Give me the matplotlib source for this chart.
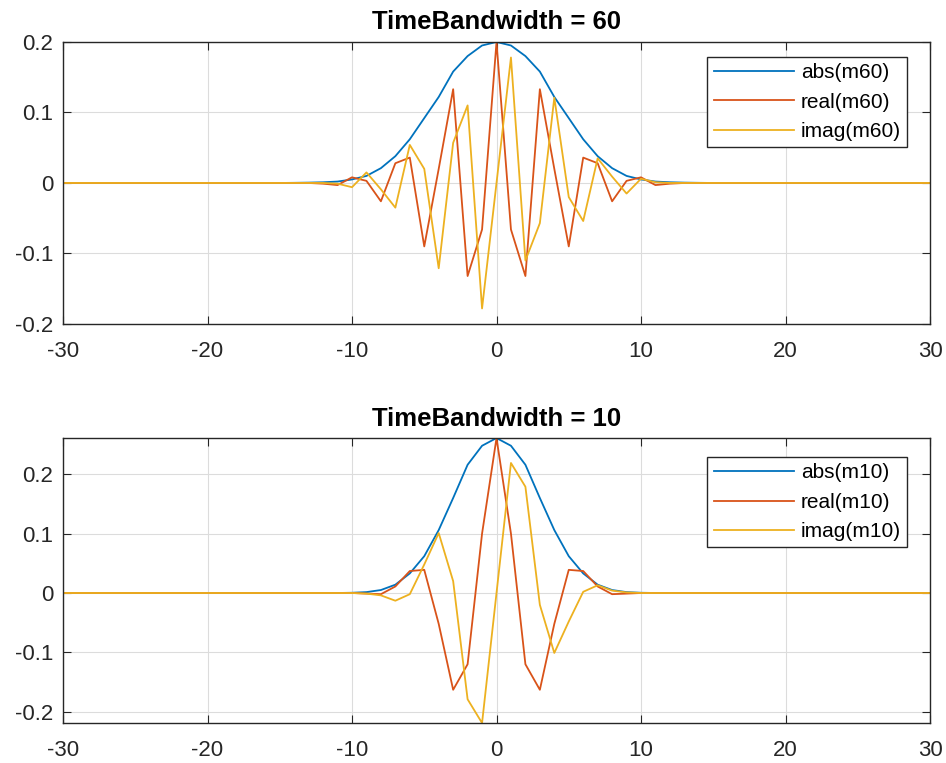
import matplotlib.pyplot as plt
import numpy as np

# sample positions
x = np.arange(-30, 31)

# TimeBandwidth = 60 (x = -30 ... 30)
abs_m60 = [0]*16 + [0.0002, 0.0005, 0.001, 0.002, 0.005, 0.010, 0.021, 0.038, 0.062, 0.092,
                    0.122, 0.158, 0.180, 0.195,
                    0.200,
                    0.195, 0.180, 0.158, 0.122,
                    0.092, 0.062, 0.038, 0.021, 0.010, 0.005, 0.002, 0.001, 0.0005, 0.0002] + [0]*16
real_m60 = [0]*16 + [0, 0, -0.001, -0.003, 0.008, 0.003, -0.026, 0.028, 0.036, -0.090,
                     0.020, 0.133, -0.132, -0.066,
                     0.200,
                     -0.066, -0.132, 0.133, 0.020,
                     -0.090, 0.036, 0.028, -0.026, 0.003, 0.008, -0.003, -0.001, 0, 0] + [0]*16
imag_m60 = [0]*16 + [0, 0, 0, -0.001, -0.006, 0.015, -0.009, -0.035, 0.054, 0.020,
                     -0.121, 0.057, 0.110, -0.178,
                     0,
                     0.178, -0.110, -0.057, 0.121,
                     -0.020, -0.054, 0.035, 0.009, -0.015, 0.006, 0.001, 0, 0, 0] + [0]*16

# TimeBandwidth = 10
abs_m10 = [0]*20 + [0.0004, 0.0015, 0.005, 0.014, 0.033, 0.062, 0.106, 0.160, 0.216, 0.248,
                    0.261,
                    0.248, 0.216, 0.160, 0.106, 0.062, 0.033, 0.014, 0.005, 0.0015, 0.0004] + [0]*20
real_m10 = [0]*20 + [0, -0.001, -0.002, 0.011, 0.037, 0.039, -0.052, -0.163, -0.120, 0.100,
                     0.261,
                     0.100, -0.120, -0.163, -0.052, 0.039, 0.037, 0.011, -0.002, -0.001, 0] + [0]*20
imag_m10 = [0]*20 + [0, -0.001, -0.004, -0.013, -0.002, 0.048, 0.101, 0.020, -0.179, -0.219,
                     0,
                     0.219, 0.179, -0.020, -0.101, -0.048, 0.002, 0.013, 0.004, 0.001, 0] + [0]*20

colors = ['#0072BD', '#D95319', '#EDB120']

plt.rcParams['font.family'] = ['Liberation Sans', 'DejaVu Sans']

fig = plt.figure(figsize=(9.46, 7.63), dpi=100)
ax_t = fig.add_axes([0.0666, 0.5754, 0.9165, 0.3696])
ax_b = fig.add_axes([0.0666, 0.0524, 0.9165, 0.3735])

panels = [
    (ax_t, 'm60', 'TimeBandwidth = 60', abs_m60, real_m60, imag_m60, 0.947),
    (ax_b, 'm10', 'TimeBandwidth = 10', abs_m10, real_m10, imag_m10, 0.933),
]

for ax, name, title, a, r, im, ly in panels:
    ax.plot(x, a, color=colors[0], lw=1.3, label='abs(%s)' % name)
    ax.plot(x, r, color=colors[1], lw=1.3, label='real(%s)' % name)
    ax.plot(x, im, color=colors[2], lw=1.3, label='imag(%s)' % name)
    ax.set_xlim(-30, 30)
    ax.set_xticks(np.arange(-30, 31, 10))
    ax.grid(True, color='#dcdcdc', lw=0.8)
    ax.set_axisbelow(True)
    ax.tick_params(direction='in', length=6, width=0.8, top=True, right=True,
                   labelsize=16, colors='#262626')
    ax.tick_params(axis='x', pad=12.5)
    ax.tick_params(axis='y', pad=7)
    for s in ax.spines.values():
        s.set_color('#262626')
        s.set_linewidth(1.0)
    ax.set_title(title, fontsize=18.5, fontweight='bold', pad=9)
    leg = ax.legend(loc='upper right', bbox_to_anchor=(0.9735, ly), fontsize=15,
                    fancybox=False, framealpha=1, edgecolor='#262626',
                    handlelength=3.85, handletextpad=0.33, labelspacing=0.5,
                    borderpad=0.3, borderaxespad=0)
    leg.get_frame().set_linewidth(1.0)

ax_t.set_ylim(-0.2, 0.2)
ax_t.set_yticks([-0.2, -0.1, 0, 0.1, 0.2])
ax_t.set_yticklabels(['-0.2', '-0.1', '0', '0.1', '0.2'])

ax_b.set_ylim(min(imag_m10), max(real_m10))
ax_b.set_yticks([-0.2, -0.1, 0, 0.1, 0.2])
ax_b.set_yticklabels(['-0.2', '-0.1', '0', '0.1', '0.2'])

for ax in (ax_t, ax_b):
    ax.set_xticklabels([str(v) for v in range(-30, 31, 10)])

fig.savefig('out.png', dpi=100)
